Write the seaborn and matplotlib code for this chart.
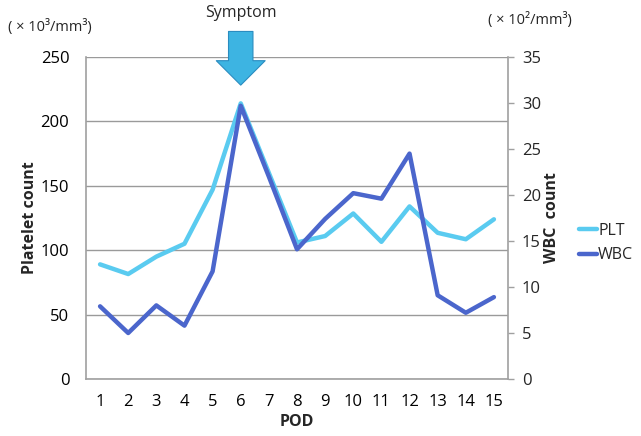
import numpy as np
import pandas as pd
import matplotlib
matplotlib.use("Agg")
import matplotlib.pyplot as plt
import seaborn as sns
from matplotlib.lines import Line2D

pod = list(range(1, 16))
plt_values = [89, 81.5, 95, 105, 147, 214, 160, 106, 111, 128.5, 106.5, 134, 113.5, 108.5, 124]
wbc_values = [7.9, 5.0, 8.0, 5.8, 11.7, 29.7, 22.0, 14.1, 17.4, 20.2, 19.6, 24.5, 9.1, 7.2, 8.9]

PLT_COLOR = "#5ACBF0"
WBC_COLOR = "#4B66CC"

sns.set_theme(style="white")
plt.rcParams["font.family"] = ["Open Sans", "DejaVu Sans"]

df = pd.DataFrame({"POD": pod, "PLT": plt_values, "WBC": wbc_values})

fig = plt.figure(figsize=(6.41, 4.36), dpi=100)
ax = fig.add_axes([86/641, 1-379/436, (508-86)/641, (379-57)/436])
ax2 = ax.twinx()

sns.lineplot(data=df, x="POD", y="PLT", ax=ax, color=PLT_COLOR, linewidth=3.2, zorder=3)
sns.lineplot(data=df, x="POD", y="WBC", ax=ax2, color=WBC_COLOR, linewidth=3.2, zorder=4)

ax.set_xlim(0.5, 15.5)
ax.set_ylim(0, 250)
ax2.set_ylim(0, 35)
ax.set_xticks(pod)
ax.set_yticks([0, 50, 100, 150, 200, 250])
ax2.set_yticks([0, 5, 10, 15, 20, 25, 30, 35])
ax.yaxis.grid(True, color="#9a9a9a", linewidth=1)
ax.set_axisbelow(True)

for a in (ax, ax2):
    for s in a.spines.values():
        s.set_visible(False)
ax.spines["left"].set_visible(True)
ax.spines["bottom"].set_visible(True)
ax2.spines["right"].set_visible(True)
for s in (ax.spines["left"], ax.spines["bottom"], ax2.spines["right"]):
    s.set_color("#a0a0a0")
    s.set_linewidth(1.2)

ax.tick_params(axis="y", length=0, labelsize=12, colors="black", pad=12)
ax.tick_params(axis="x", length=0, labelsize=12, colors="black", pad=11)
ax2.tick_params(axis="y", length=4, width=1, color="#a0a0a0", labelsize=12, pad=6)

ax.set_xlabel("POD", fontsize=11.5, fontweight="bold", labelpad=3)
ax.set_ylabel("Platelet count", fontsize=11.5, fontweight="bold", labelpad=2)
ax2.set_ylabel("WBC  count", fontsize=11.5, fontweight="bold", labelpad=2)

fig.text(8/641, 1-27/436, "( × 10³/mm³)", fontsize=10.5, va="center", ha="left")
fig.text(488/641, 1-20/436, "( × 10²/mm³)", fontsize=10.5, va="center", ha="left")

# Symptom arrow
ax.annotate("", xy=(6, 226), xytext=(6, 272), annotation_clip=False,
            arrowprops=dict(arrowstyle="simple,head_width=2.2,head_length=1.1,tail_width=1.1",
                            fc="#3DB4E2", ec="#2A8CC0", lw=0.8, mutation_scale=16))
ax.text(6, 284, "Symptom", ha="center", va="center", fontsize=11.5, clip_on=False)

handles = [Line2D([], [], color=PLT_COLOR, lw=3.2), Line2D([], [], color=WBC_COLOR, lw=3.2)]
fig.legend(handles, ["PLT", "WBC"], loc="center left", bbox_to_anchor=(579/641, 1-243/436),
           frameon=False, fontsize=11.5, handlelength=1.1, handletextpad=0.1, labelspacing=0.55,
           borderpad=0, borderaxespad=0)

fig.savefig("out.png", dpi=100)
